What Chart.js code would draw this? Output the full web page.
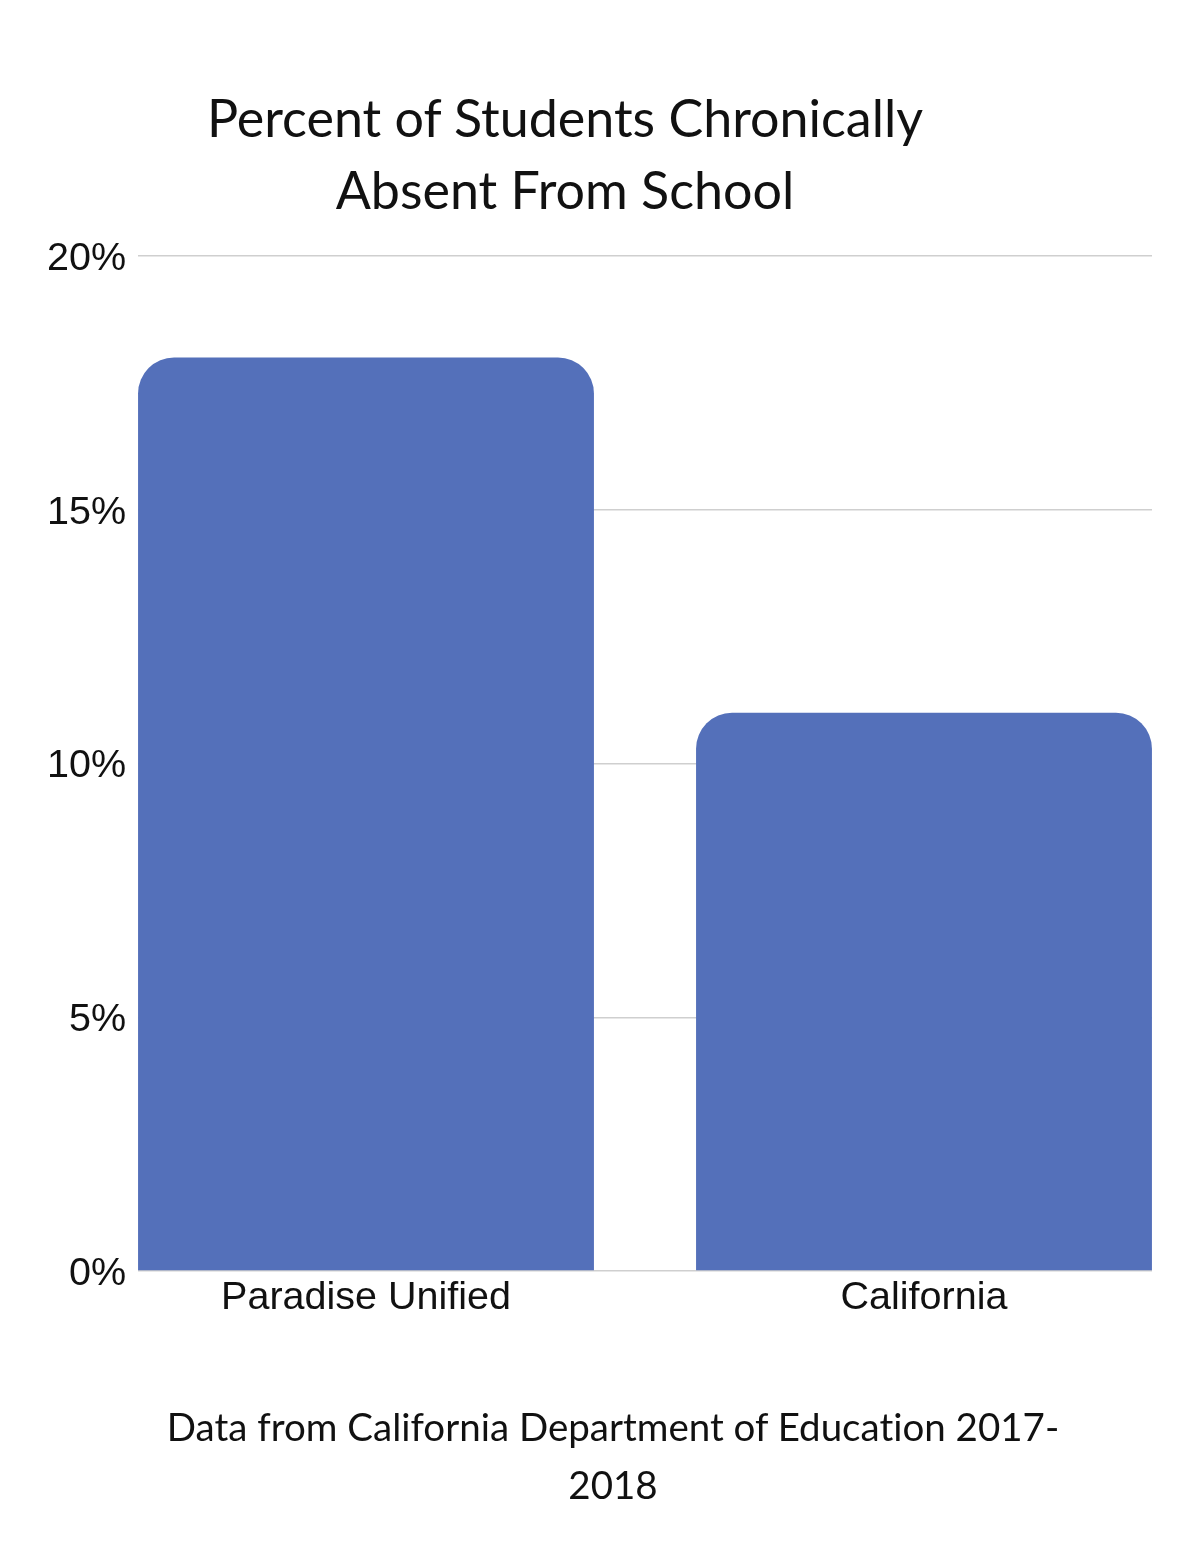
<!DOCTYPE html>
<html>
<head>
<meta charset="utf-8">
<script src="https://cdn.jsdelivr.net/npm/chart.js@4/dist/chart.umd.min.js"></script>
<style>
  html, body { margin: 0; padding: 0; background: #fff; }
  #wrap { position: relative; width: 1200px; height: 1552px; }
  #chart { position: absolute; left: 0; top: 0; }
  .txt { position: absolute; text-align: center; color: #111; font-family: Lato, "Open Sans", sans-serif; font-variant-ligatures: none; }
  #title { left: 0; width: 1130px; top: 81px; font-size: 52px; line-height: 72px; }
  #source { left: 26px; width: 1174px; top: 1397px; font-size: 38.5px; line-height: 58px; }
</style>
</head>
<body>
<div id="wrap">
  <canvas id="chart" width="1200" height="1552"></canvas>
  <div id="title" class="txt">Percent of Students Chronically<br>Absent From School</div>
  <div id="source" class="txt">Data from California Department of Education 2017-<br>2018</div>
</div>
<script>
var categories = ["Paradise Unified", "California"];
var absentPct = [18, 11];
var yTicks = [0, 5, 10, 15, 20];

var barColor = "#5470ba";
var tickFont = {family: "'Liberation Sans', Arial, sans-serif", size: 39.5};

var ctx = document.getElementById("chart").getContext("2d");
new Chart(ctx, {
    type: 'bar',
    data: {
        datasets: [{
            label: "Chronically absent",
            data: absentPct.map(function (v, i) { return {x: i, y: v}; }),
            backgroundColor: barColor,
            borderRadius: {topLeft: 36, topRight: 36, bottomLeft: 0, bottomRight: 0},
            borderSkipped: false,
            barPercentage: 0.817,
            categoryPercentage: 1
        }]
    },
    options: {
        responsive: false,
        animation: false,
        layout: {padding: {left: 0, right: 48, top: 256, bottom: 221}},
        plugins: {legend: {display: false}, tooltip: {enabled: false}},
        scales: {
            x: {
                type: 'linear',
                offset: false,
                min: -0.4086,
                max: 1.4086,
                afterBuildTicks: function (scale) {
                    scale.ticks = categories.map(function (c, i) { return {value: i}; });
                },
                afterFit: function (scale) { scale.height = 60; },
                grid: {display: false, drawTicks: false, offset: false},
                border: {display: false},
                ticks: {
                    padding: 3,
                    color: "#111",
                    font: tickFont,
                    callback: function (v) { return categories[v]; }
                }
            },
            y: {
                min: 0,
                max: 20,
                afterBuildTicks: function (scale) {
                    scale.ticks = yTicks.map(function (t) { return {value: t}; });
                },
                afterFit: function (scale) { scale.width = 138; },
                grid: {color: "#cfcfcf", lineWidth: 1.5, drawTicks: false},
                border: {display: false},
                ticks: {
                    padding: 12,
                    labelOffset: 3,
                    color: "#111",
                    font: tickFont,
                    callback: function (v) { return v + "%"; }
                }
            }
        }
    }
});
</script>
</body>
</html>
